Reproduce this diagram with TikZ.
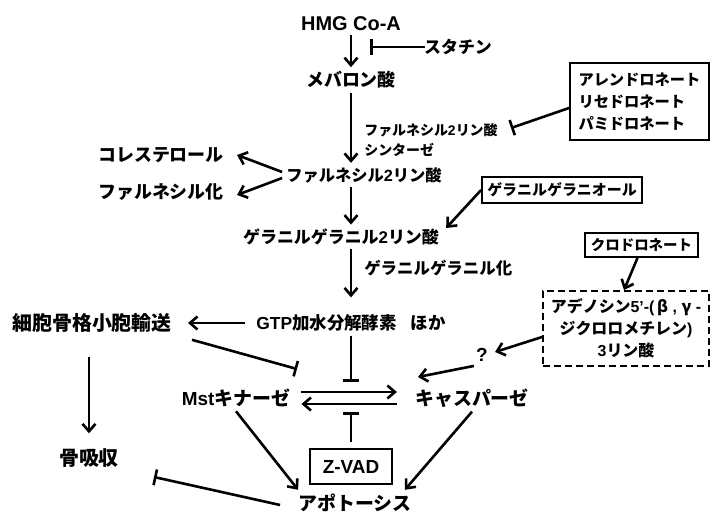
\documentclass[tikz,border=0pt]{standalone}
\usepackage{fontspec}
\setmainfont{Liberation Sans}
\newfontfamily\jpfont{Noto Sans CJK JP}
\newcommand{\jp}[1]{{\jpfont #1}}
\usepackage{tikz}
\usetikzlibrary{positioning,arrows.meta,calc}

\begin{document}
\begin{tikzpicture}[x=1bp, y=-1bp, line width=2.6bp,
        >={Straight Barb[length=7.5bp,width=13bp]},
        lbl/.style={inner sep=3bp, font=\bfseries\fontsize{#1}{22}\selectfont},
        lbl/.default=18,
        inh/.style={-{Bar[width=16bp]}},
        box/.style={draw, line width=1.8bp}]
            \useasboundingbox (0,0) rectangle (710,513);

            \node[lbl=20] (hmg) at (351,24) {HMG Co-A};
            \node[lbl=17] (statin) at (458,47) {\jp{スタチン}};
            \node[lbl] (mev) at (351,80) {\jp{メバロン酸}};
            \node[lbl=14, anchor=west, align=left] (fdps) at (360,140) {\jp{ファルネシル}2\jp{リン酸}\\[-2bp]\jp{シンターゼ}};
            \node[lbl=15.3, box, align=left, text width=122bp, inner xsep=8.5bp, minimum height=77bp] (bisph) at (639.5,101.5) {\jp{アレンドロネート}\\\jp{リセドロネート}\\\jp{パミドロネート}};

            \node[lbl] (chol) at (161,155) {\jp{コレステロール}};
            \node[lbl] (farn) at (161,192) {\jp{ファルネシル化}};
            \node[lbl=16.3] (fpp) at (364,175) {\jp{ファルネシル}2\jp{リン酸}};
            \node[lbl=15, box, minimum width=160bp, minimum height=26bp] (ggoh) at (562,190) {\jp{ゲラニルゲラニオール}};
            \node[lbl=17] (gpp) at (341,237) {\jp{ゲラニルゲラニル}2\jp{リン酸}};
            \node[lbl=16.5, anchor=west] (ggyl) at (360,268) {\jp{ゲラニルゲラニル化}};
            \node[lbl=14.5, box, minimum width=113bp, minimum height=24bp] (clod) at (641.5,245) {\jp{クロドロネート}};

            \node[lbl=17.5] (gtp) at (351,323) {GTP\jp{加水分解酵素}\hspace{14bp}\jp{ほか}};
            \node[lbl=20] (ves) at (92,323) {\jp{細胞骨格小胞輸送}};
            \node[lbl=16, box, dashed, dash pattern=on 7bp off 4bp, align=center, minimum width=166bp, minimum height=75bp] (appcp) at (626,328.5) {\jp{アデノシン}5’-(\,\jp{β}\ ,\ \jp{γ}\ -\\\jp{ジクロロメチレン})\\3\jp{リン酸}};
            \node[lbl=19] (q) at (482,355) {?};
            \node[lbl=19] (mst) at (236,398) {Mst\jp{キナーゼ}};
            \node[lbl=19] (casp) at (472,398) {\jp{キャスパーゼ}};
            \node[lbl=20] (bone) at (89,458) {\jp{骨吸収}};
            \node[lbl=19, box, minimum width=82bp, minimum height=35bp] (zvad) at (351,466.5) {Z-VAD};
            \node[lbl=19] (apo) at (355,503) {\jp{アポトーシス}};

            \coordinate (statinbar) at (370,47);
            \coordinate (fdpsbar) at (511,128);
            \coordinate (vesbar) at (297,369);
            \coordinate (gtpbar) at (351,382);
            \coordinate (zvadbar) at (351,412);
            \coordinate (qtip) at (418,377);
            \coordinate (bonebar) at (154,477);

            \draw[->] (hmg) -- (mev);
            \draw[inh, shorten <=-5bp] (statin) -- (statinbar);
            \draw[->] (mev) -- (mev |- fpp.north);
            \draw[inh] ([yshift=-6.5bp]bisph.west) -- (fdpsbar);
            \draw[->] ([yshift=3bp]fpp.west) -- ([xshift=9bp]chol.east);
            \draw[->] ([yshift=-3bp]fpp.west) -- ([xshift=9bp,yshift=-3bp]farn.east);
            \draw[->] (fpp.south -| mev) -- (mev |- gpp.north);
            \draw[->] (ggoh.west) -- ([xshift=3bp,yshift=9bp]gpp.east);
            \draw[->, shorten >=13bp] (gpp.south -| gtp) -- (gtp);
            \draw[->, shorten <=7bp, shorten >=12bp] (gtp) -- (ves);
            \draw[->, shorten <=20bp, shorten >=11bp] (ves.south -| bone) -- (bone);
            \draw[inh] ([xshift=16bp,yshift=-3bp]ves.south east) -- (vesbar);
            \draw[inh] (gtp) -- (gtpbar);
            \draw[->, shorten <=7bp, shorten >=14bp] ([yshift=6bp]mst.east) -- ([yshift=6bp]casp.west);
            \draw[->, shorten <=14bp, shorten >=7bp] ([yshift=-6bp]casp.west) -- ([yshift=-6bp]mst.east);
            \draw[->] ([xshift=2bp]q.south west) -- (qtip);
            \draw[->] ([yshift=-8.5bp]appcp.west) -- ([xshift=3bp,yshift=3bp]q.east);
            \draw[->] ([xshift=-4bp]clod.south) -- ([xshift=-2bp]appcp.north);
            \draw[->] (mst.south) -- ([xshift=4bp]apo.north west);
            \draw[->] (casp.south) -- ([xshift=-11bp]apo.north east);
            \draw[inh, shorten <=6bp] (zvad) -- (zvadbar);
            \draw[inh] ([xshift=-14bp,yshift=-2bp]apo.west) -- (bonebar);

        \end{tikzpicture}
\end{document}
